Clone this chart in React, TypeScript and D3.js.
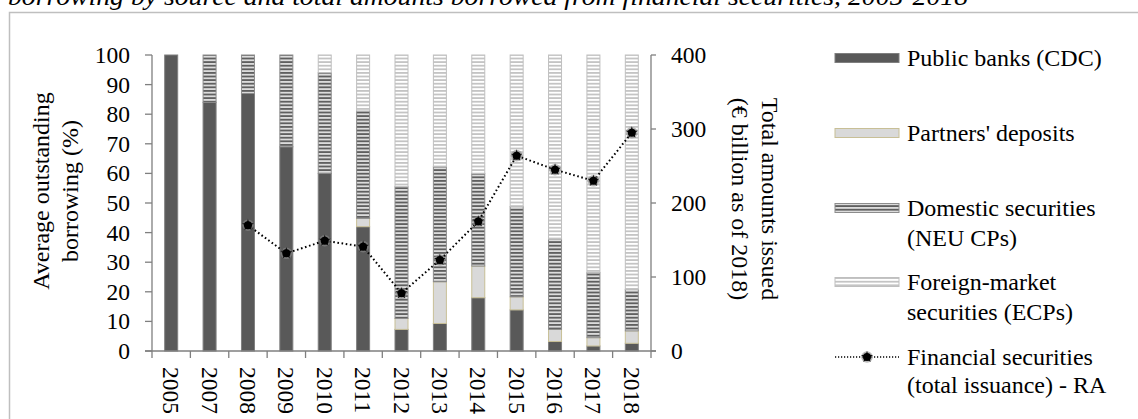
import React from "react";
import * as d3 from "d3";

const years = ["2005","2007","2008","2009","2010","2011","2012","2013","2014","2015","2016","2017","2018"];
const publicBanks = [100, 84, 87, 69, 60, 42, 7.3, 9.3, 18, 13.9, 3.2, 1.7, 2.6];
const partnersDeposits = [0, 0, 0, 0, 0, 2.8, 3.7, 14.1, 10.7, 4.4, 4.1, 2.8, 4.2];
const domesticSecurities = [0, 16, 13, 31, 34, 36.3, 44.5, 38.9, 31.3, 30.5, 30.5, 22, 14];
const foreignSecurities = [0, 0, 0, 0, 6, 18.9, 44.5, 37.7, 40, 51.2, 62.2, 73.5, 79.2];
const issuance: (number | null)[] = [null, null, 170, 132, 149, 141, 78, 123, 175, 264, 245, 230, 295];
const leftTicks = [0, 10, 20, 30, 40, 50, 60, 70, 80, 90, 100];
const rightTicks = [0, 100, 200, 300, 400];

const seriesNames = ["Public banks (CDC)", "Partners' deposits", "Domestic securities (NEU CPs)", "Foreign-market securities (ECPs)"];

const FONT = "'Liberation Serif', 'Times New Roman', serif";

export default function App() {
  const left = 152, right = 651, top = 55, bottom = 351;
  const x = d3.scalePoint<string>().domain(years).range([left, right]).padding(0.5);
  const step = x.step();
  const yL = d3.scaleLinear().domain([0, 100]).range([bottom, top]);
  const yR = d3.scaleLinear().domain([0, 400]).range([bottom, top]);
  const barW = 13;

  const rows = years.map((yr, i) => ({
    year: yr,
    pb: publicBanks[i], pd: partnersDeposits[i], ds: domesticSecurities[i], fs: foreignSecurities[i],
  }));
  const stack = d3.stack<any>().keys(["pb", "pd", "ds", "fs"])(rows);
  const fills = ["#595959", "#d9d9d9", "url(#domPat)", "url(#forPat)"];
  const strokes = ["#7f7f7f", "#c8bf96", "#8c8c8c", "#bfbfbf"];

  const linePts = years.map((yr, i) => ({ yr, v: issuance[i] })).filter(d => d.v != null) as { yr: string; v: number }[];
  const line = d3.line<{ yr: string; v: number }>().x(d => x(d.yr)!).y(d => yR(d.v));
  const star = d3.symbol().type(d3.symbolStar).size(45)()!;

  const Marker = ({ cx, cy }: { cx: number; cy: number }) => (
    <g transform={`translate(${cx},${cy})`}>
      <circle r={5.8} fill="#8a8a8a" opacity={0.6} />
      <path d={star} fill="#111" />
      <circle r={4} fill="#000" />
    </g>
  );

  const legX = 835, legW = 64, textX = 907;
  const legendItems = [
    { y: 58, fill: fills[0], stroke: strokes[0], lines: [seriesNames[0]] },
    { y: 133, fill: fills[1], stroke: strokes[1], lines: [seriesNames[1]] },
    { y: 208, fill: fills[2], stroke: strokes[2], lines: ["Domestic securities", "(NEU CPs)"] },
    { y: 282, fill: fills[3], stroke: strokes[3], lines: ["Foreign-market", "securities (ECPs)"] },
  ];

  return (
    <svg width={1138} height={419} style={{ position: "absolute", left: 0, top: 0, background: "#fff" }} fontFamily={FONT}>
      <defs>
        <pattern id="domPat" patternUnits="userSpaceOnUse" width={8} height={3.6}>
          <rect width={8} height={3.6} fill="#dcdcdc" />
          <rect width={8} height={1.8} fill="#5f5f5f" />
        </pattern>
        <pattern id="forPat" patternUnits="userSpaceOnUse" width={8} height={3.6}>
          <rect width={8} height={3.6} fill="#ffffff" />
          <rect width={8} height={1.8} fill="#c4c4c4" />
        </pattern>
      </defs>
      <rect x={0} y={0} width={1138} height={419} fill="#fff" />
      <text x={8} y={5} fontSize={25} fontStyle="italic" textLength={960} lengthAdjust="spacingAndGlyphs">
        borrowing by source and total amounts borrowed from financial securities, 2005-2018
      </text>
      <rect x={9.5} y={12.5} width={1140} height={420} fill="none" stroke="#bfbfbf" strokeWidth={1.5} />

      {/* bars */}
      {stack.map((layer, li) => (
        <g key={li}>
          {layer.map((d, i) => {
            const h = yL(d[0]) - yL(d[1]);
            if (h <= 0.01) return null;
            return (
              <rect key={i} x={x(years[i])! - barW / 2} y={yL(d[1])} width={barW} height={h}
                fill={fills[li]} stroke={strokes[li]} strokeWidth={1} />
            );
          })}
        </g>
      ))}

      {/* axes */}
      <g stroke="#7f7f7f" strokeWidth={1.3}>
        <line x1={left} x2={left} y1={top} y2={bottom} />
        <line x1={right} x2={right} y1={top} y2={bottom} />
        <line x1={left - 7} x2={right + 5} y1={bottom} y2={bottom} />
        {leftTicks.map(t => <line key={t} x1={left - 7} x2={left} y1={yL(t)} y2={yL(t)} />)}
        {rightTicks.map(t => <line key={t} x1={right} x2={right + 5} y1={yR(t)} y2={yR(t)} />)}
        {d3.range(years.length + 1).map(i => (
          <line key={i} x1={left + i * step} x2={left + i * step} y1={bottom} y2={bottom + 7} />
        ))}
      </g>
      <g fontSize={23.5} fill="#000">
        {leftTicks.map(t => (
          <text key={t} x={130} y={yL(t)} textAnchor="end" dominantBaseline="central">{t}</text>
        ))}
        {rightTicks.map(t => (
          <text key={t} x={671} y={yR(t)} textAnchor="start" dominantBaseline="central">{t}</text>
        ))}
        {years.map(yr => (
          <text key={yr} transform={`translate(${x(yr)},367) rotate(90)`} textAnchor="start" dominantBaseline="central">{yr}</text>
        ))}
      </g>

      {/* axis titles */}
      <g fontSize={24} textAnchor="middle" dominantBaseline="central">
        <text transform="translate(41,191) rotate(-90)">Average outstanding</text>
        <text transform="translate(70,191) rotate(-90)">borrowing (%)</text>
        <text transform="translate(770,199) rotate(90)">Total amounts issued</text>
        <text transform="translate(740,199) rotate(90)">(€ billion as of 2018)</text>
      </g>

      {/* line */}
      <path d={line(linePts)!} fill="none" stroke="#000" strokeWidth={2} strokeDasharray="1.6,2.6" />
      {linePts.map(d => <Marker key={d.yr} cx={x(d.yr)!} cy={yR(d.v)} />)}

      {/* legend */}
      <g fontSize={24}>
        {legendItems.map((it, i) => (
          <g key={i}>
            <rect x={legX} y={it.y - 4.5} width={legW} height={9} fill={it.fill} stroke={it.stroke} strokeWidth={1} />
            {it.lines.map((l, j) => (
              <text key={j} x={textX} y={it.y + j * 30} dominantBaseline="central">{l}</text>
            ))}
          </g>
        ))}
        <line x1={legX} x2={legX + legW} y1={357} y2={357} stroke="#000" strokeWidth={1.5} strokeDasharray="1.2,1.8" />
        <Marker cx={legX + 32} cy={357} />
        <text x={textX} y={357} dominantBaseline="central">Financial securities</text>
        <text x={textX} y={385} dominantBaseline="central">(total issuance) - RA</text>
      </g>
    </svg>
  );
}
